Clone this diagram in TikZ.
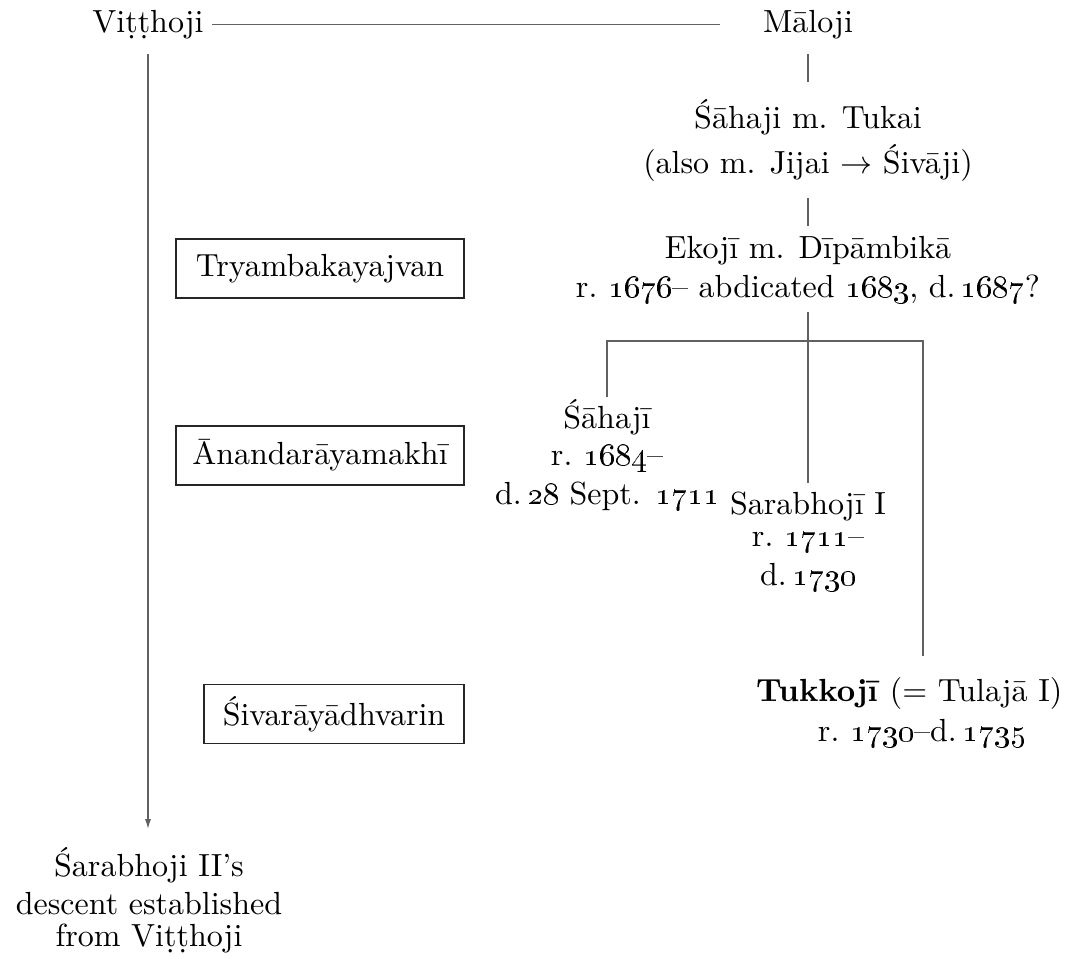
\documentclass[tikz,border=0pt]{standalone}
\usetikzlibrary{arrows.meta}
\newdimen\pxu \pxu=0.3125pt
\newcommand\os[1]{\oldstylenums{#1}}
\tikzset{
  conn/.style={draw=black!62, line width=0.42pt},
  lbl/.style={anchor=base, inner sep=0pt},
  boxed/.style={draw=black!85, line width=0.38pt, inner sep=0pt,
                minimum height=59\pxu},
  desc/.style={-{Latex[length=3.1pt,width=1.9pt]}},
}
\begin{document}
\begin{tikzpicture}[x=0.3125pt,y=-0.3125pt]
\useasboundingbox (0,0) rectangle (1069,958);

% top line
\node[lbl] (vitthoji) at (148,32) {Viṭṭhoji};
\node[lbl] (maloji) at (808,32) {Māloji};
\draw[conn] ([xshift=8\pxu]vitthoji.east) -- (720,0 |- vitthoji.east);

% Maloji -> Sahaji
\node[lbl] (sahaji) at (808,128) {Śāhaji m. Tukai};
\node[lbl] (sahajib) at (808,173) {(also m. Jijai $\rightarrow$ Śivāji)};
\draw[conn] (maloji.base |- 0,54) -- (sahaji.base |- 0,82);

% Sahaji -> Ekoji
\node[lbl] (ekoji) at (808,258) {Ekojī m. Dīpāmbikā};
\node[lbl] (ekojib) at (808,297) {r.~\os{1676}– abdicated \os{1683}, d.\,\os{1687}?};
\draw[conn] (sahajib.base |- 0,198) -- (ekoji.base |- 0,226);

% children
\node[lbl] (sahajiII) at (607,428) {Śāhajī};
\node[lbl] (sahajiIIb) at (607,465) {r.~\os{1684}–};
\node[lbl] (sahajiIIc) at (607,504) {d.\,\os{28} Sept. \os{1711}};

\node[lbl] (sarabhoji) at (808,514) {Sarabhojī I};
\node[lbl] (sarabhojib) at (808,546) {r.~\os{1711}–};
\node[lbl] (sarabhojic) at (808,585) {d.\,\os{1730}};

\node[lbl, anchor=base east] (tukkoji) at (1063,701) {\textbf{Tukkojī} (= Tulajā I)};
\node[lbl] (tukkojib) at (922,741) {r.~\os{1730}–d.\,\os{1735}};

\draw[conn] (ekojib.base |- 0,312) -- (sarabhoji.base |- 0,483);
\draw[conn] (sahajiII.base |- 0,397) -- (sahajiII.base |- 0,341)
            -- (923,341) -- (923,656);

% boxes
\node[boxed, minimum width=288\pxu] (tryamb) at (320,268.5) {Tryambakayajvan};
\node[boxed, minimum width=288\pxu] (ananda) at (320,455.5) {Ānandarāyamakhī};
\node[boxed, minimum width=260\pxu] (sivaraya) at (334,714) {Śivarāyādhvarin};

% descent arrow
\node[lbl] (sarabhojiII) at (149,876) {Śarabhoji II’s};
\node[lbl] (sarabhojiIIb) at (149,914) {descent established};
\node[lbl] (sarabhojiIIc) at (149,946) {from Viṭṭhoji};
\draw[conn, desc] (vitthoji.base |- 0,54) -- (vitthoji.base |- 0,829);
\end{tikzpicture}
\end{document}
